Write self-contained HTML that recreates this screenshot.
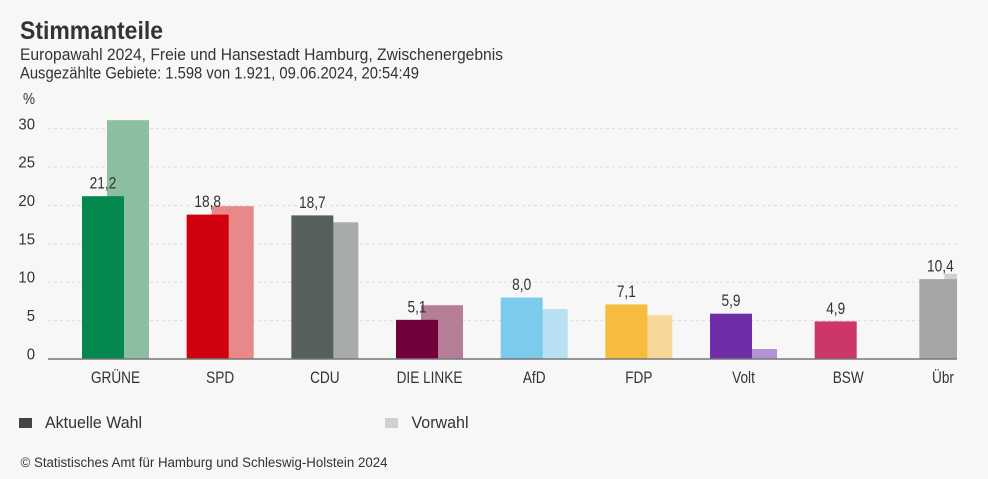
<!DOCTYPE html>
<html lang="de">
<head>
<meta charset="utf-8">
<title>Stimmanteile</title>
<style>
html,body{margin:0;padding:0;background:#f7f7f7;}
body{width:988px;height:479px;overflow:hidden;}
svg{display:block;}
text{font-family:"Liberation Sans",sans-serif;fill:#333;}
</style>
</head>
<body>
<svg id="chart" width="988" height="479" viewBox="0 0 988 479" xmlns="http://www.w3.org/2000/svg">
  <rect x="0" y="0" width="988" height="479" fill="#f7f7f7"/>
  <text x="20" y="39" font-size="25" font-weight="700" textLength="143" lengthAdjust="spacingAndGlyphs">Stimmanteile</text>
  <text x="20" y="60" font-size="16.5" textLength="483" lengthAdjust="spacingAndGlyphs">Europawahl 2024, Freie und Hansestadt Hamburg, Zwischenergebnis</text>
  <text x="20" y="78.5" font-size="16.5" textLength="399" lengthAdjust="spacingAndGlyphs">Ausgezählte Gebiete: 1.598 von 1.921, 09.06.2024, 20:54:49</text>
  <text x="23" y="104" font-size="16" textLength="12" lengthAdjust="spacingAndGlyphs">%</text>
  <defs><clipPath id="plot-clip"><rect x="0" y="90" width="957" height="300"/></clipPath></defs>
  <g id="grid"></g>
  <g id="bars" clip-path="url(#plot-clip)"></g>
  <line x1="48" x2="957" y1="359" y2="359" stroke="#777" stroke-width="1.5"/>
  <g id="labels"></g>
  <rect x="19" y="418" width="13" height="10" fill="#444"/>
  <text x="45" y="428" font-size="16.5" textLength="97" lengthAdjust="spacingAndGlyphs">Aktuelle Wahl</text>
  <rect x="385" y="418" width="13" height="10" fill="#d0d0d0"/>
  <text x="411.5" y="428" font-size="16.5" textLength="57" lengthAdjust="spacingAndGlyphs">Vorwahl</text>
  <text x="20.5" y="467" font-size="13.5" textLength="367" lengthAdjust="spacingAndGlyphs">© Statistisches Amt für Hamburg und Schleswig-Holstein 2024</text>
</svg>
<script>
var parties = ["GRÜNE","SPD","CDU","DIE LINKE","AfD","FDP","Volt","BSW","Übr"];
var currentVotes = [21.2,18.8,18.7,5.1,8.0,7.1,5.9,4.9,10.4];
var previousVotes = [31.1,19.9,17.8,7.0,6.5,5.7,1.3,0,11.1];
var valueLabels = ["21,2","18,8","18,7","5,1","8,0","7,1","5,9","4,9","10,4"];
var yTicks = [0,5,10,15,20,25,30];
var currentColors = ["#05884d","#d0000f","#58605f","#72003a","#7ccaec","#f7bb3d","#6f2da8","#cd3668","#a6a6a6"];
var previousColors = ["#8cbf9f","#e88888","#a8abac","#b67d96","#b9e0f2","#f7d89a","#b491d4","#e79ab3","#d0d0d0"];

var NS = "http://www.w3.org/2000/svg";
function yScale(v){ return 359 - v * 7.68; }
function bandX(i){ return 82 + i * 104.67; }
function make(tag, attrs, parent){
  var el = document.createElementNS(NS, tag);
  for (var k in attrs) el.setAttribute(k, attrs[k]);
  parent.appendChild(el);
  return el;
}
function squeeze(el, factor){
  var len = el.getComputedTextLength();
  el.setAttribute("textLength", (len * factor).toFixed(1));
  el.setAttribute("lengthAdjust", "spacingAndGlyphs");
}
var grid = document.getElementById("grid");
var bars = document.getElementById("bars");
var labels = document.getElementById("labels");

yTicks.forEach(function(t){
  if (t > 0) {
    var g = make("line", {x1:48, x2:957, y1:yScale(t), y2:yScale(t), stroke:"#dcdcdc", "stroke-width":1, "stroke-dasharray":"3 3"}, grid);
    
    
  }
  var lab = make("text", {x:35, y:yScale(t) + (t === 30 ? 1 : 0.5), "text-anchor":"end", "font-size":16}, grid);
  lab.textContent = String(t);
  
  
  squeeze(lab, 0.93);
});

parties.forEach(function(p, i){
  var x = bandX(i);
  if (previousVotes[i] > 0) {
    var prev = make("rect", {x:x + 25, y:yScale(previousVotes[i]), width:42, height:359 - yScale(previousVotes[i]), fill:previousColors[i]}, bars);
    
    
  }
  var cur = make("rect", {x:x, y:yScale(currentVotes[i]), width:42, height:359 - yScale(currentVotes[i]), fill:currentColors[i]}, bars);
  
  

  var val = make("text", {x:x + 21, y:yScale(currentVotes[i]) - 7.5, "text-anchor":"middle", "font-size":16.5}, labels);
  val.textContent = valueLabels[i];
  
  
  squeeze(val, 0.83);

  var last = i === parties.length - 1;
  var cat = make("text", {x:last ? 943 : x + 33.5, y:383, "text-anchor":"middle", "font-size":17}, labels);
  cat.textContent = p;
  
  
  squeeze(cat, 0.8);
});
</script>
</body>
</html>
